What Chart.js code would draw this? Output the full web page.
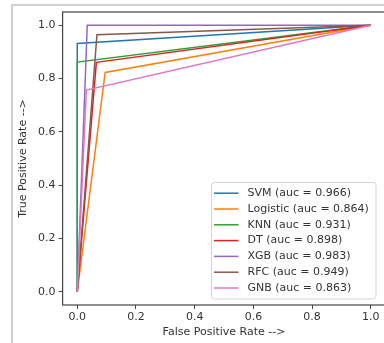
<!DOCTYPE html>
<html>
<head>
<meta charset="utf-8">
<script src="https://cdn.jsdelivr.net/npm/chart.js@4"></script>
<style>
  html, body { margin: 0; padding: 0; background: #fff; overflow: hidden; width: 384px; height: 343px; }
  #wrap { position: absolute; left: 0; top: 0; width: 392px; height: 343px; }
  #frame { position: absolute; left: 11px; top: 4px; width: 400px; height: 360px;
           border-left: 2px solid #cfcfcf; border-top: 2px solid #cfcfcf; }
</style>
</head>
<body>
<div id="frame"></div>
<div id="wrap"><canvas id="roc" width="392" height="343"></canvas></div>
<script>
const models = ['SVM', 'Logistic', 'KNN', 'DT', 'XGB', 'RFC', 'GNB']
const aucs = [0.966, 0.864, 0.931, 0.898, 0.983, 0.949, 0.863]
// fpr / tpr per model: [0, threshold point, 1]
const fprs = [
  [0, 0.0, 1],
  [0, 0.095, 1],
  [0, 0.0, 1],
  [0, 0.065, 1],
  [0, 0.034, 1],
  [0, 0.067, 1],
  [0, 0.031, 1],
]
const tprs = [
  [0, 0.932, 1],
  [0, 0.823, 1],
  [0, 0.862, 1],
  [0, 0.861, 1],
  [0, 1.0, 1],
  [0, 0.965, 1],
  [0, 0.757, 1],
]
const colors = ['#1f77b4', '#ff7f0e', '#2ca02c', '#d62728', '#9467bd', '#8c564b', '#e377c2']
const tickVals = [0, 0.2, 0.4, 0.6, 0.8, 1.0]

const FONT = 'DejaVu Sans'
const axisColor = '#444'
const textColor = '#333'

const datasets = models.map((m, i) => ({
  label: `${m} (auc = ${aucs[i].toFixed(3)})`,
  data: fprs[i].map((x, j) => ({ x, y: tprs[i][j] })),
  borderColor: colors[i],
  backgroundColor: colors[i],
  borderWidth: 1.5,
  pointRadius: 0,
  showLine: true,
  tension: 0,
  order: models.length - i,
}))

const frameBox = {
  id: 'frameBox',
  afterDatasetsDraw(chart) {
    const { ctx, chartArea: a } = chart
    ctx.save()
    ctx.strokeStyle = axisColor
    ctx.lineWidth = 1.2
    ctx.strokeRect(a.left, a.top, a.right - a.left, a.bottom - a.top)
    ctx.restore()
  },
}

const boxLegend = {
  id: 'boxLegend',
  afterDraw(chart) {
    const { ctx, chartArea: a } = chart
    const w = 164.5, h = 116.5
    const x = a.right - 9.5 - w
    const y = a.bottom - 6 - h
    ctx.save()
    ctx.beginPath()
    ctx.roundRect(x, y, w, h, 3)
    ctx.fillStyle = 'rgba(255,255,255,0.85)'
    ctx.fill()
    ctx.strokeStyle = '#d4d4d4'
    ctx.lineWidth = 1
    ctx.stroke()
    ctx.font = `11px "${FONT}"`
    ctx.textBaseline = 'middle'
    chart.data.datasets.forEach((ds, i) => {
      const ry = y + 10.7 + i * 15.8
      ctx.strokeStyle = ds.borderColor
      ctx.lineWidth = 1.5
      ctx.beginPath()
      ctx.moveTo(x + 2.5, ry)
      ctx.lineTo(x + 27, ry)
      ctx.stroke()
      ctx.fillStyle = textColor
      ctx.fillText(ds.label, x + 36, ry)
    })
    ctx.restore()
  },
}

const fixedTicks = (scale) => {
  scale.ticks = tickVals.map((v) => ({ value: v }))
}

new Chart(document.getElementById('roc'), {
  type: 'scatter',
  data: { datasets },
  plugins: [frameBox, boxLegend],
  options: {
    responsive: false,
    animation: false,
    events: [],
    layout: { padding: { top: 12, right: 6.5, bottom: 0, left: 0 } },
    plugins: {
      legend: { display: false },
      tooltip: { enabled: false },
    },
    scales: {
      x: {
        type: 'linear',
        min: -0.05,
        max: 1.05,
        afterBuildTicks: fixedTicks,
        afterFit: (s) => { s.height = 38 },
        grid: { drawOnChartArea: false, drawTicks: true, tickLength: 4, color: axisColor },
        border: { display: false },
        ticks: {
          padding: 2,
          color: textColor,
          font: { family: FONT, size: 11 },
          callback: (v) => Number(v).toFixed(1),
        },
        title: {
          display: true,
          text: 'False Positive Rate -->',
          color: textColor,
          font: { family: FONT, size: 11 },
          padding: { top: 0, bottom: 4.5 },
        },
      },
      y: {
        type: 'linear',
        min: -0.05,
        max: 1.05,
        afterBuildTicks: fixedTicks,
        afterFit: (s) => { s.width = 62.6 },
        grid: { drawOnChartArea: false, drawTicks: true, tickLength: 4, color: axisColor },
        border: { display: false },
        ticks: {
          padding: 3,
          color: textColor,
          font: { family: FONT, size: 11 },
          callback: (v) => Number(v).toFixed(1),
        },
        title: {
          display: true,
          text: 'True Positive Rate -->',
          color: textColor,
          font: { family: FONT, size: 11 },
          padding: { top: 16.4, bottom: 0 },
        },
      },
    },
  },
})
</script>
</body>
</html>
